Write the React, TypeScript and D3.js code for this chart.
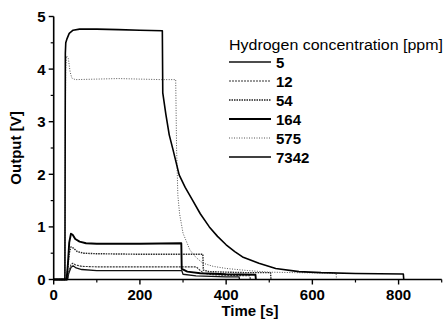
import React from "react";
import * as d3 from "d3";

const legendTitle = "Hydrogen concentration [ppm]";
const seriesNames = ["5", "12", "54", "164", "575", "7342"];
const xTicks = [0, 200, 400, 600, 800];
const yTicks = [0, 1, 2, 3, 4, 5];

const s5: [number, number][] = [[0,0],[32,0],[35,0.12],[40,0.23],[45,0.26],[52,0.22],[65,0.19],[100,0.17],[200,0.17],[297,0.17],[300,0.1],[330,0.07],[400,0.05],[430,0.05],[431,0]];
const s12: [number, number][] = [[0,0],[32,0],[35,0.15],[40,0.28],[44,0.31],[50,0.28],[65,0.25],[100,0.24],[200,0.24],[331,0.24],[340,0.17],[348,0.12],[370,0.09],[400,0.08],[455,0.07],[456,0]];
const s54: [number, number][] = [[0,0],[30,0],[33,0.25],[36,0.5],[40,0.62],[45,0.6],[55,0.53],[70,0.5],[100,0.49],[200,0.48],[346,0.48],[347,0.18],[360,0.15],[400,0.14],[450,0.13],[503,0.13],[504,0]];
const s164: [number, number][] = [[0,0],[30,0],[33,0.3],[36,0.7],[40,0.87],[44,0.85],[50,0.77],[60,0.72],[75,0.69],[100,0.68],[200,0.68],[296,0.69],[297,0.2],[310,0.15],[340,0.12],[400,0.1],[468,0.09],[469,0]];
const s575: [number, number][] = [[0,0],[26,0],[27,3.0],[28,4.0],[30,4.25],[34,4.2],[38,3.95],[42,3.83],[50,3.8],[100,3.81],[150,3.82],[200,3.81],[250,3.8],[283,3.8],[285,2.5],[288,1.6],[292,1.25],[300,0.88],[316,0.56],[330,0.42],[346,0.31],[370,0.25],[400,0.21],[450,0.17],[500,0.14],[560,0.13],[655,0.12],[656,0]];
const s7342: [number, number][] = [[0,0],[26,0],[27,4.3],[28,4.5],[31,4.58],[36,4.68],[45,4.74],[60,4.76],[100,4.76],[150,4.75],[200,4.74],[252,4.73],[253,3.55],[260,3.15],[268,2.75],[277,2.46],[291,1.99],[305,1.75],[322,1.51],[340,1.25],[361,1.0],[380,0.82],[400,0.66],[420,0.53],[438,0.43],[476,0.31],[515,0.21],[569,0.15],[620,0.13],[700,0.115],[811,0.105],[812,0]];

const seriesData = [s5, s12, s54, s164, s575, s7342];
const styles = [
  { stroke: "#111", width: 1.3, dash: "" },
  { stroke: "#333", width: 1.1, dash: "2,1" },
  { stroke: "#222", width: 1.4, dash: "1.5,1" },
  { stroke: "#000", width: 1.9, dash: "" },
  { stroke: "#555", width: 1.0, dash: "1,1.5" },
  { stroke: "#000", width: 1.6, dash: "" },
];

export default function App() {
  const W = 448, H = 324;
  const x = d3.scaleLinear().domain([0, 900]).range([53.7, 441.7]);
  const y = d3.scaleLinear().domain([0, 5]).range([279.5, 16.5]);
  const line = d3.line<[number, number]>().x(d => x(d[0])).y(d => y(d[1]));
  const font = "'Liberation Sans', Arial, Helvetica, sans-serif";
  const xMinor = d3.range(100, 901, 200);
  const yMinor = d3.range(0.5, 5, 1);
  return (
    <svg width={W} height={H} style={{ position: "absolute", left: 0, top: 0, background: "#fff" }} fontFamily={font}>
      <rect width={W} height={H} fill="#fff" />
      {seriesData.map((s, i) => (
        <path key={i} d={line(s) || ""} fill="none" stroke={styles[i].stroke} strokeWidth={styles[i].width}
          strokeDasharray={styles[i].dash || undefined} strokeLinejoin="round" />
      ))}
      <line x1={x(0)} x2={x(900)} y1={y(0)} y2={y(0)} stroke="#000" strokeWidth={1.6} />
      <line x1={x(0)} x2={x(0)} y1={y(0)} y2={y(5)} stroke="#000" strokeWidth={1.6} />
      {xTicks.map(t => (
        <g key={t}>
          <line x1={x(t)} x2={x(t)} y1={y(0)} y2={y(0) + 5} stroke="#000" strokeWidth={1.4} />
          <text x={x(t)} y={300} textAnchor="middle" fontSize={15} fontWeight="bold">{t}</text>
        </g>
      ))}
      {xMinor.map(t => (
        <line key={t} x1={x(t)} x2={x(t)} y1={y(0)} y2={y(0) + 3} stroke="#000" strokeWidth={1.2} />
      ))}
      {yTicks.map(t => (
        <g key={t}>
          <line x1={x(0) - 5} x2={x(0)} y1={y(t)} y2={y(t)} stroke="#000" strokeWidth={1.4} />
          <text x={45.5} y={y(t) + 5.5} textAnchor="end" fontSize={15} fontWeight="bold">{t}</text>
        </g>
      ))}
      {yMinor.map(t => (
        <line key={t} x1={x(0) - 3} x2={x(0)} y1={y(t)} y2={y(t)} stroke="#000" strokeWidth={1.2} />
      ))}
      <text x={250} y={316} textAnchor="middle" fontSize={15} fontWeight="bold">Time [s]</text>
      <text transform={`translate(21,${y(2.5)}) rotate(-90)`} textAnchor="middle" fontSize={15} fontWeight="bold">Output [V]</text>
      <text x={229} y={50} fontSize={15.5} textLength={214} lengthAdjust="spacingAndGlyphs">{legendTitle}</text>
      {seriesNames.map((n, i) => {
        const cy = 62 + i * 19;
        return (
          <g key={n}>
            <line x1={229} x2={271} y1={cy} y2={cy} stroke={styles[i].stroke} strokeWidth={styles[i].width}
              strokeDasharray={styles[i].dash || undefined} />
            <text x={276} y={cy + 5.5} fontSize={15} fontWeight="bold">{n}</text>
          </g>
        );
      })}
    </svg>
  );
}
